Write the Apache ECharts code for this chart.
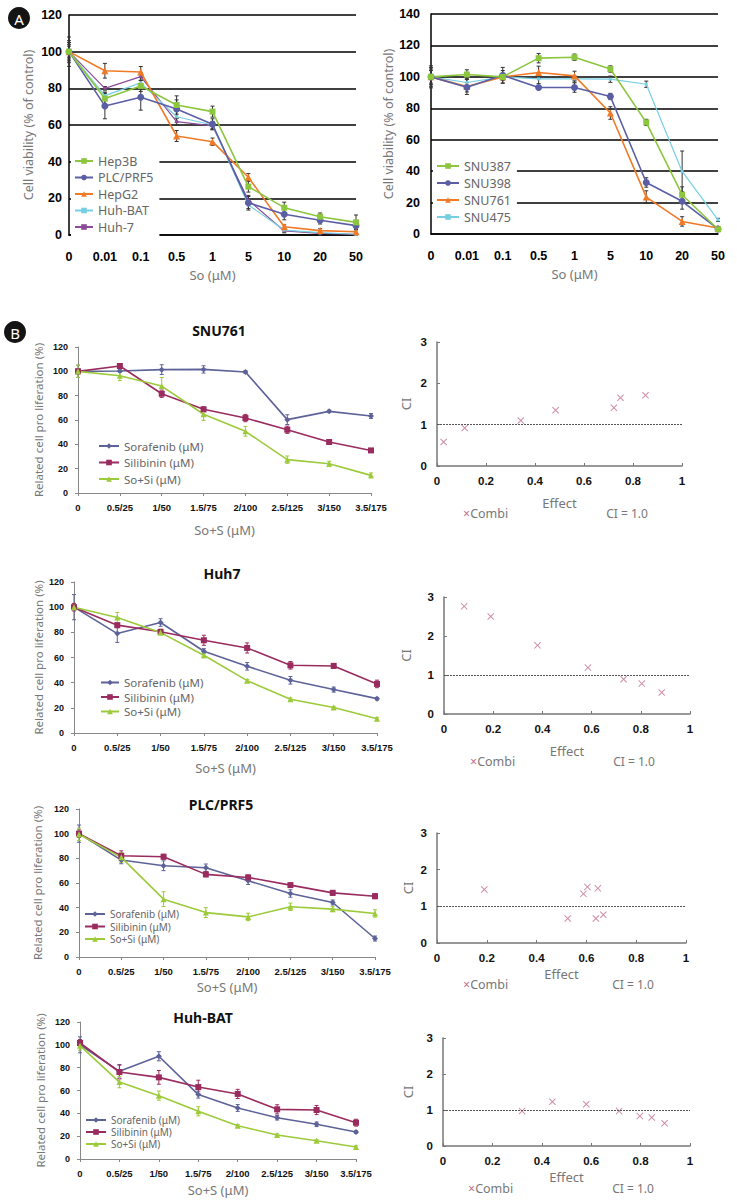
<!DOCTYPE html>
<html><head><meta charset="utf-8">
<script src="https://cdn.jsdelivr.net/npm/echarts@6/dist/echarts.min.js"></script>
<style>html,body{margin:0;padding:0;background:#fff}#c{width:737px;height:1203px}</style>
</head><body><div id="c"></div>
<script>
// ---------- Panel A ----------
const categoriesA = ['0','0.01','0.1','0.5','1','5','10','20','50'];
const hep3B   = [100, 74.4, 81.3, 70.9, 67.3, 26.4, 14.9, 10.0, 6.9];
const plcPrf5 = [100, 70.4, 75.1, 68.7, 60.4, 17.6, 11.3, 8.0, 5.1];
const hepG2   = [100, 89.6, 88.9, 54.0, 50.9, 31.5, 4.5, 2.4, 1.8];
const huhBAT  = [100, 76.0, 83.0, 64.5, 60.0, 16.4, 2.7, 1.3, 0.4];
const huh7A   = [100, 80.0, 86.4, 61.8, 59.5, 19.0, 2.2, 0.9, 0.4];
const hep3BErr   = [6, 3, 3, 5, 3, 3, 3, 2, 4];
const plcPrf5Err = [8, 7, 7, 5, 3, 4, 3, 2, 2];
const hepG2Err   = [5, 4, 3, 3, 2, 2, 1, 1, 1];
const huhBATErr  = [4, 2, 3, 3, 2, 2, 1, 1, 1];
const huh7AErr   = [3, 1, 2, 2, 2, 2, 1, 1, 1];

const snu387 = [100, 101.5, 100, 111.9, 112.5, 105, 71, 25, 3];
const snu398 = [100, 93.4, 101, 93.2, 93.2, 87.5, 32.8, 20.8, 3.2];
const snu761 = [100, 93.8, 100, 102.8, 100.6, 77, 23.5, 8, 3.8];
const snu475 = [100, 96.4, 100, 98.7, 98.7, 98.5, 95.3, 39.8, 9];
const snu387Err = [5, 3, 2, 3, 2, 2, 2, 5, 1];
const snu398Err = [4, 3, 5, 1, 3, 2, 3, 5, 1];
const snu761Err = [6, 5, 4, 4, 3, 4, 4, 3, 1];
const snu475Err = [7, 2, 2, 3, 2, 2, 2, 13, 1];

// ---------- Panel B ----------
const categoriesB = ['0','0.5/25','1/50','1.5/75','2/100','2.5/125','3/150','3.5/175'];
// SNU761
const snu761So   = [100, 100.3, 101.4, 101.6, 99.5, 60.3, 67.1, 63.3];
const snu761Si   = [100, 104.4, 81.6, 68.8, 61.6, 52, 41.9, 35];
const snu761Comb = [100, 96.4, 87.9, 64.7, 50.7, 27.4, 24.1, 14.5];
const snu761SoErr   = [5, 1, 4, 3, 1, 4, 1, 2];
const snu761SiErr   = [2, 2, 3, 2, 3, 3, 2, 1];
const snu761CombErr = [5, 4, 7, 5, 4, 3, 2, 2];
const snu761Effect = [0.027, 0.113, 0.342, 0.484, 0.722, 0.749, 0.851];
const snu761CI     = [0.58, 0.92, 1.10, 1.35, 1.41, 1.65, 1.71];
// Huh7
const huh7So   = [100, 79, 87.8, 65, 53, 41.9, 34.5, 27.3];
const huh7Si   = [100, 85.7, 80.4, 73.7, 67.6, 53.8, 53.3, 39];
const huh7Comb = [100, 91.8, 79.8, 61.8, 41.6, 26.8, 20.2, 11.4];
const huh7SoErr   = [10, 7, 3, 2, 3, 3, 2, 1];
const huh7SiErr   = [3, 2, 2, 4, 4, 3, 2, 3];
const huh7CombErr = [2, 4, 2, 2, 1, 1, 1, 1];
const huh7Effect = [0.082, 0.19, 0.38, 0.585, 0.73, 0.804, 0.885];
const huh7CI     = [2.76, 2.50, 1.76, 1.19, 0.89, 0.78, 0.55];
// PLC/PRF5
const plcSo   = [100, 78.6, 74, 72.4, 61.8, 51.5, 44.2, 15];
const plcSi   = [100, 82.1, 81.3, 67, 64.5, 58.3, 52, 49.3];
const plcComb = [99.5, 80.8, 46.9, 36, 32.5, 40.7, 38.8, 35.3];
const plcSoErr   = [7, 3, 4, 3, 3, 3, 2, 2];
const plcSiErr   = [3, 4, 2, 2, 2, 1, 2, 2];
const plcCombErr = [5, 4, 6, 4, 3, 3, 2, 3];
const plcEffect = [0.19, 0.525, 0.588, 0.604, 0.638, 0.646, 0.668];
const plcCI     = [1.46, 0.67, 1.34, 1.53, 0.67, 1.49, 0.77];
// Huh-BAT
const batSo   = [100, 76.8, 90, 56.4, 44.7, 36.2, 30.4, 23.6];
const batSi   = [101.6, 76.2, 71.5, 63, 57, 43.5, 42.9, 31.8];
const batComb = [99.3, 67.4, 55.5, 41.8, 29.2, 21, 16, 10.5];
const batSoErr   = [7, 6, 4, 3, 3, 2, 2, 1];
const batSiErr   = [3, 6, 6, 6, 4, 4, 4, 3];
const batCombErr = [4, 5, 4, 4, 1, 1, 1, 1];
const batEffect = [0.32, 0.443, 0.58, 0.713, 0.797, 0.845, 0.897];
const batCI     = [0.97, 1.23, 1.16, 0.97, 0.83, 0.79, 0.63];

const ciRef = 1;
const namesB = ['Sorafenib (μM)', 'Silibinin (μM)', 'So+Si (μM)'];

// ---------- styling helpers ----------
const TICK_FONT = '"Liberation Sans", Arial, sans-serif';
const NAME_FONT = '"Noto Sans", "Open Sans", sans-serif';
const cGreen = '#8cc63e', cBlue = '#5a5ea5', cOrange = '#f07a26', cCyan = '#76cfe3', cPurple = '#8b4b98';
const cSo = '#5d6298', cSi = '#9a2b5e', cComb = '#9cca3a';
const cX = '#c2708f';

function errBars(values, errs, color, gi, capW) {
  return {
    type: 'custom', xAxisIndex: gi, yAxisIndex: gi, z: 3, silent: true, animation: false,
    data: values.map((v, i) => [i, v, errs[i]]),
    encode: {x: 0, y: 1},
    renderItem: function (params, api) {
      const i = api.value(0), v = api.value(1), e = api.value(2);
      const top = api.coord([i, v + e]);
      const bot = api.coord([i, Math.max(v - e, 0)]);
      const st = {stroke: color, lineWidth: 1};
      return {type: 'group', children: [
        {type: 'line', shape: {x1: top[0], y1: top[1], x2: bot[0], y2: bot[1]}, style: st},
        {type: 'line', shape: {x1: top[0] - capW, y1: top[1], x2: top[0] + capW, y2: top[1]}, style: st},
        {type: 'line', shape: {x1: bot[0] - capW, y1: bot[1], x2: bot[0] + capW, y2: bot[1]}, style: st}
      ]};
    }
  };
}
function line(name, values, color, symbol, size, gi, lw) {
  return {type: 'line', name: name, data: values, xAxisIndex: gi, yAxisIndex: gi,
    symbol: symbol, symbolSize: size, showSymbol: true, animation: false, z: 4,
    lineStyle: {color: color, width: lw || 1.6}, itemStyle: {color: color}};
}
const xPath = 'path://M0,1L1,0L5,4L9,0L10,1L6,5L10,9L9,10L5,6L1,10L0,9L4,5Z';
function ciSeries(effects, cis, gi) {
  return {type: 'scatter', name: 'Combi', xAxisIndex: gi, yAxisIndex: gi, animation: false,
    data: effects.map((e, i) => [e, cis[i]]), symbol: xPath, symbolSize: 7,
    itemStyle: {color: cX},
    markLine: {silent: true, symbol: 'none', label: {show: false}, animation: false,
      lineStyle: {color: '#555', type: [2, 1], width: 1}, data: [{yAxis: ciRef}]}};
}

// ---------- grids ----------
const grids = [
  {left: 69,  top: 15,   width: 287, height: 220},
  {left: 431, top: 14,   width: 287, height: 220},
  {left: 78,  top: 347,  width: 293, height: 146},
  {left: 437, top: 342,  width: 245, height: 124},
  {left: 74,  top: 582,  width: 303, height: 151},
  {left: 444, top: 597,  width: 246, height: 117},
  {left: 79,  top: 809,  width: 296, height: 148},
  {left: 437, top: 833,  width: 249, height: 110},
  {left: 80,  top: 1022, width: 276, height: 137},
  {left: 443, top: 1038, width: 247, height: 108}
];

function xA(gi) {
  return {gridIndex: gi, type: 'category', boundaryGap: false, data: categoriesA,
    axisLine: {lineStyle: {color: '#000', width: 1.5}}, axisTick: {show: false},
    axisLabel: {color: '#000', fontWeight: 'bold', fontSize: 12.5, fontFamily: TICK_FONT, margin: 15, interval: 0},
    name: 'So (μM)', nameLocation: 'middle', nameGap: 33,
    nameTextStyle: {color: '#777', fontSize: 13, fontFamily: NAME_FONT}};
}
function yA(gi, max, margin) {
  return {gridIndex: gi, type: 'value', min: 0, max: max, interval: 20,
    axisLine: {show: true, lineStyle: {color: '#000', width: 1.5}}, axisTick: {show: false},
    splitLine: {show: true, lineStyle: {color: '#000', width: 1.5}},
    axisLabel: {color: '#000', fontWeight: 'bold', fontSize: 12.5, fontFamily: TICK_FONT, margin: margin},
    name: 'Cell viability (% of control)', nameLocation: 'middle', nameGap: 34,
    nameTextStyle: {color: '#777', fontSize: 12.5, fontFamily: NAME_FONT}};
}
function xB(gi, gap) {
  return {gridIndex: gi, type: 'category', boundaryGap: false, data: categoriesB,
    axisLine: {lineStyle: {color: '#888', width: 1}}, axisTick: {show: true, length: 3, lineStyle: {color: '#888'}},
    axisLabel: {color: '#111', fontWeight: 'bold', fontSize: 9.5, fontFamily: TICK_FONT, margin: 9, interval: 0},
    name: 'So+S (μM)', nameLocation: 'middle', nameGap: gap,
    nameTextStyle: {color: '#777', fontSize: 13, fontFamily: NAME_FONT}};
}
function yB(gi, gap) {
  return {gridIndex: gi, type: 'value', min: 0, max: 120, interval: 20,
    axisLine: {show: true, lineStyle: {color: '#888', width: 1}}, axisTick: {show: true, length: 3, lineStyle: {color: '#888'}},
    splitLine: {show: false},
    axisLabel: {color: '#111', fontWeight: 'bold', fontSize: 9, fontFamily: TICK_FONT, margin: 10},
    name: 'Related cell pro liferation (%)', nameLocation: 'middle', nameGap: gap,
    nameTextStyle: {color: '#777', fontSize: 11.5, fontFamily: NAME_FONT}};
}
function xCI(gi, gap) {
  return {gridIndex: gi, type: 'value', min: 0, max: 1, interval: 0.2,
    axisLine: {lineStyle: {color: '#777', width: 1.5}}, axisTick: {show: true, inside: true, length: 3, lineStyle: {color: '#777'}},
    splitLine: {show: false},
    axisLabel: {color: '#111', fontWeight: 'bold', fontSize: 11.5, fontFamily: TICK_FONT, margin: 9},
    name: 'Effect', nameLocation: 'middle', nameGap: gap,
    nameTextStyle: {color: '#777', fontSize: 13, fontFamily: NAME_FONT}};
}
function yCI(gi, gap) {
  return {gridIndex: gi, type: 'value', min: 0, max: 3, interval: 1,
    axisLine: {show: true, lineStyle: {color: '#777', width: 1.5}}, axisTick: {show: true, inside: true, length: 3, lineStyle: {color: '#777'}},
    splitLine: {show: false},
    axisLabel: {color: '#111', fontWeight: 'bold', fontSize: 11.5, fontFamily: TICK_FONT, margin: 10},
    name: 'CI', nameLocation: 'middle', nameGap: gap,
    nameTextStyle: {color: '#777', fontSize: 13, fontFamily: NAME_FONT}};
}

const xAxes = [xA(0), xA(1), xB(2, 30), xCI(3, 30), xB(4, 28), xCI(5, 30), xB(6, 23), xCI(7, 24), xB(8, 24), xCI(9, 24)];
const yAxes = [yA(0, 120, 7), yA(1, 140, 11), yB(2, 34), yCI(3, 25), yB(4, 30), yCI(5, 32), yB(6, 36), yCI(7, 23), yB(8, 34), yCI(9, 29)];

const series = [
  errBars(hep3B, hep3BErr, '#333', 0, 2), errBars(plcPrf5, plcPrf5Err, '#333', 0, 2),
  errBars(hepG2, hepG2Err, '#333', 0, 2), errBars(huhBAT, huhBATErr, '#333', 0, 2), errBars(huh7A, huh7AErr, '#333', 0, 2),
  line('Huh-7', huh7A, cPurple, 'rect', 3, 0, 1.2),
  line('Huh-BAT', huhBAT, cCyan, 'rect', 3, 0, 1.2),
  line('HepG2', hepG2, cOrange, 'triangle', 7, 0),
  line('PLC/PRF5', plcPrf5, cBlue, 'circle', 7, 0),
  line('Hep3B', hep3B, cGreen, 'rect', 6, 0),

  errBars(snu387, snu387Err, '#333', 1, 2), errBars(snu398, snu398Err, '#333', 1, 2),
  errBars(snu761, snu761Err, '#333', 1, 2), errBars(snu475, snu475Err, '#333', 1, 2),
  line('SNU475', snu475, cCyan, 'rect', 3, 1, 1.2),
  line('SNU761', snu761, cOrange, 'triangle', 7, 1),
  line('SNU398', snu398, cBlue, 'circle', 7, 1),
  line('SNU387', snu387, cGreen, 'rect', 6, 1),

  errBars(snu761So, snu761SoErr, cSo, 2, 2), errBars(snu761Si, snu761SiErr, cSi, 2, 2), errBars(snu761Comb, snu761CombErr, cComb, 2, 2),
  line(namesB[0], snu761So, cSo, 'diamond', 6, 2), line(namesB[1], snu761Si, cSi, 'rect', 6, 2), line(namesB[2], snu761Comb, cComb, 'triangle', 6, 2),
  ciSeries(snu761Effect, snu761CI, 3),

  errBars(huh7So, huh7SoErr, cSo, 4, 2), errBars(huh7Si, huh7SiErr, cSi, 4, 2), errBars(huh7Comb, huh7CombErr, cComb, 4, 2),
  line(namesB[0], huh7So, cSo, 'diamond', 6, 4), line(namesB[1], huh7Si, cSi, 'rect', 6, 4), line(namesB[2], huh7Comb, cComb, 'triangle', 6, 4),
  ciSeries(huh7Effect, huh7CI, 5),

  errBars(plcSo, plcSoErr, cSo, 6, 2), errBars(plcSi, plcSiErr, cSi, 6, 2), errBars(plcComb, plcCombErr, cComb, 6, 2),
  line(namesB[0], plcSo, cSo, 'diamond', 6, 6), line(namesB[1], plcSi, cSi, 'rect', 6, 6), line(namesB[2], plcComb, cComb, 'triangle', 6, 6),
  ciSeries(plcEffect, plcCI, 7),

  errBars(batSo, batSoErr, cSo, 8, 2), errBars(batSi, batSiErr, cSi, 8, 2), errBars(batComb, batCombErr, cComb, 8, 2),
  line(namesB[0], batSo, cSo, 'diamond', 6, 8), line(namesB[1], batSi, cSi, 'rect', 6, 8), line(namesB[2], batComb, cComb, 'triangle', 6, 8),
  ciSeries(batEffect, batCI, 9)
];

function legend(names, left, top, fs, lh, gap, iw, bg) {
  return {data: names, orient: 'vertical', left: left, top: top, itemWidth: iw, itemHeight: 7, itemGap: gap,
    padding: bg ? [2, 6, 2, 3] : 0, backgroundColor: bg ? '#fff' : 'transparent', selectedMode: false,
    textStyle: {color: '#666', fontSize: fs, fontFamily: NAME_FONT, lineHeight: lh}};
}
const legends = [
  legend(['Hep3B', 'PLC/PRF5', 'HepG2', 'Huh-BAT', 'Huh-7'], 71, 152, 12.5, 14, 2.5, 18, true),
  legend(['SNU387', 'SNU398', 'SNU761', 'SNU475'], 433, 157, 12.5, 14, 3, 22, true),
  legend(namesB, 98, 439, 11.5, 14, 2.5, 20, false),
  legend(namesB, 100, 676, 11.5, 13, 1.5, 18, false),
  legend(namesB, 84, 908, 10, 12, 0.5, 20, false),
  legend(namesB, 85, 1114, 10, 12, 0, 20, false)
];

function badge(letter, cx, cy) {
  return [
    {type: 'circle', shape: {cx: cx, cy: cy, r: 11}, style: {fill: '#141414'}},
    {type: 'text', x: cx, y: cy + 1, style: {text: letter, fill: '#fff', font: '15px "Noto Sans", sans-serif', align: 'center', verticalAlign: 'middle'}}
  ];
}
function title(t, x, y) {
  return {type: 'text', x: x, y: y, style: {text: t, fill: '#111', font: 'bold 14px "Noto Sans", sans-serif', align: 'center', verticalAlign: 'middle'}};
}
function combi(x, y, cx) {
  return [
    {type: 'text', x: x, y: y, style: {text: '{a|×}{b|Combi}', rich: {a: {fill: cX, fontSize: 12.5, fontFamily: NAME_FONT}, b: {fill: '#777', fontSize: 12.5, fontFamily: NAME_FONT}}, align: 'left', verticalAlign: 'middle'}},
    {type: 'text', x: cx, y: y, style: {text: 'CI = 1.0', fill: '#777', font: '12px "Noto Sans", sans-serif', align: 'center', verticalAlign: 'middle'}}
  ];
}

const graphics = [].concat(
  badge('A', 19, 18), badge('B', 15, 332),
  [title('SNU761', 219, 330), title('Huh7', 222, 573), title('PLC/PRF5', 221, 804), title('Huh-BAT', 203, 1017)],
  combi(463, 513, 627), combi(470, 761, 634), combi(463, 984, 633), combi(468, 1188, 633)
);

const chart = echarts.init(document.getElementById('c'), null, {renderer: 'svg', width: 737, height: 1203});
chart.setOption({
  animation: false,
  backgroundColor: '#fff',
  grid: grids,
  xAxis: xAxes,
  yAxis: yAxes,
  legend: legends,
  series: series,
  graphic: graphics
});
</script></body></html>
